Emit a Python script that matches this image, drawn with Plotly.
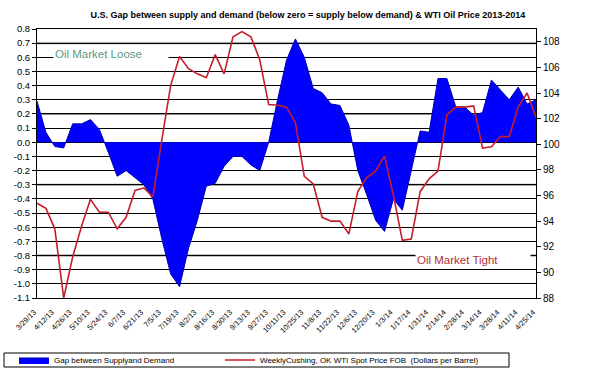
import plotly.graph_objects as go

weeks = ["3/29/13", "4/5/13", "4/12/13", "4/19/13", "4/26/13", "5/3/13", "5/10/13", "5/17/13",
         "5/24/13", "5/31/13", "6/7/13", "6/14/13", "6/21/13", "6/28/13", "7/5/13", "7/12/13",
         "7/19/13", "7/26/13", "8/2/13", "8/9/13", "8/16/13", "8/23/13", "8/30/13", "9/6/13",
         "9/13/13", "9/20/13", "9/27/13", "10/4/13", "10/11/13", "10/18/13", "10/25/13", "11/1/13",
         "11/8/13", "11/15/13", "11/22/13", "11/29/13", "12/6/13", "12/13/13", "12/20/13", "12/27/13",
         "1/3/14", "1/10/14", "1/17/14", "1/24/14", "1/31/14", "2/7/14", "2/14/14", "2/21/14",
         "2/28/14", "3/7/14", "3/14/14", "3/21/14", "3/28/14", "4/4/14", "4/11/14", "4/18/14", "4/25/14"]

gap = [0.29, 0.07, -0.03, -0.04, 0.13, 0.13, 0.16, 0.09, -0.07, -0.24,
       -0.20, -0.25, -0.30, -0.40, -0.68, -0.93, -1.02, -0.75, -0.55, -0.31,
       -0.29, -0.17, -0.10, -0.10, -0.16, -0.20, 0.00, 0.30, 0.58, 0.73,
       0.60, 0.38, 0.35, 0.27, 0.26, 0.12, -0.20, -0.37, -0.55, -0.63,
       -0.40, -0.48, -0.20, 0.08, 0.07, 0.45, 0.45, 0.25, 0.25, 0.19,
       0.21, 0.44, 0.37, 0.30, 0.39, 0.27, 0.30]

wti = [95.4, 95.0, 93.4, 88.0, 91.2, 93.6, 95.7, 94.7, 94.7, 93.4,
       94.3, 96.4, 96.6, 95.9, 100.3, 104.6, 106.85, 105.9, 105.5, 105.2,
       107.0, 105.5, 108.4, 108.8, 108.4, 106.6, 103.1, 103.05, 102.9, 101.7,
       97.5, 96.9, 94.3, 94.0, 94.0, 93.0, 96.3, 97.4, 97.9, 99.1,
       96.0, 92.5, 92.6, 96.3, 97.3, 97.9, 102.3, 102.9, 102.9, 103.0,
       99.7, 99.8, 100.6, 100.6, 102.9, 104.0, 102.1]

left_ticks = [0.8, 0.7, 0.6, 0.5, 0.4, 0.3, 0.2, 0.1, 0.0, -0.1, -0.2, -0.3, -0.4, -0.5,
              -0.6, -0.7, -0.8, -0.9, -1.0, -1.1]
left_labels = ["%.1f" % v for v in left_ticks]
right_ticks = [88, 90, 92, 94, 96, 98, 100, 102, 104, 106, 108]

FONT = "Liberation Sans, Arial, sans-serif"

# plot area in pixels: x 37..536, y 29..298
PL, PW, PT, PH = 37, 499, 29, 269
def px(x):
    return (x - PL) / PW
def py(y):
    return (PT + PH - y) / PH

fig = go.Figure()
fig.add_trace(go.Scatter(
    x=weeks, y=gap, name="Gap between Supplyand Demand",
    fill="tozeroy", mode="lines", fillcolor="#0000ff",
    line=dict(color="#0000b0", width=1), yaxis="y", legend="legend"))
fig.add_trace(go.Scatter(
    x=weeks, y=wti, name="WeeklyCushing, OK WTI Spot Price FOB  (Dollars per Barrel)",
    mode="lines", line=dict(color="#c41e2a", width=1.6), yaxis="y2", legend="legend2"))

# grey-looking gridlines in the reference
for v in [0.7, 0.2, -0.3, -0.8]:
    fig.add_shape(type="line", xref="paper", yref="y", x0=0, x1=1, y0=v, y1=v,
                  line=dict(color="#8a8a8a", width=2), layer="below")

# legend frame
fig.add_shape(type="rect", xref="paper", yref="paper", x0=px(4), x1=px(509), y0=py(353), y1=py(367),
              line=dict(color="black", width=1), fillcolor="rgba(0,0,0,0)")

fig.update_layout(
    width=590, height=392,
    margin=dict(l=37, r=54, t=29, b=94, autoexpand=False),
    paper_bgcolor="white", plot_bgcolor="white",
    font=dict(family=FONT, size=9, color="black"),
    title=dict(text="<b>U.S. Gap between supply and demand (below zero = supply below demand) & WTI Oil Price 2013-2014</b>",
               x=0.543, xref="paper", xanchor="center", y=1 - 15 / 392, yanchor="middle",
               font=dict(size=9, family=FONT, color="black")),
    xaxis=dict(type="category", range=[0, len(weeks) - 1], tickvals=weeks[::2], ticktext=weeks[::2],
               tickangle=-45, tickfont=dict(size=7.5), showgrid=False, showline=True,
               linecolor="black", linewidth=1, mirror=True, ticks="", zeroline=False,
               automargin=False, ticklabelstandoff=6, ticklabelshift=-3),
    yaxis=dict(range=[-1.1, 0.8], tickvals=left_ticks, ticktext=left_labels,
               showgrid=True, gridcolor="black", gridwidth=1, zeroline=False,
               showline=True, linecolor="black", linewidth=1, ticks="outside", ticklen=4,
               tickcolor="black", tickfont=dict(size=9.5), automargin=False),
    yaxis2=dict(range=[88, 109], tickvals=right_ticks, overlaying="y", side="right",
                showgrid=False, zeroline=False, showline=True, linecolor="black", linewidth=1,
                ticks="outside", ticklen=4, tickcolor="black", tickfont=dict(size=10),
                automargin=False),
    legend=dict(orientation="h", x=px(14), xanchor="left", y=py(360), yanchor="middle",
                borderwidth=0, font=dict(size=8), bgcolor="rgba(0,0,0,0)", itemwidth=30),
    legend2=dict(orientation="h", x=px(220), xanchor="left", y=py(360), yanchor="middle",
                 borderwidth=0, font=dict(size=8), bgcolor="rgba(0,0,0,0)", itemwidth=30),
    showlegend=True,
)

fig.add_annotation(text="Oil Market Loose", xref="paper", yref="y", x=px(53), y=0.62,
                   xanchor="left", yanchor="middle", showarrow=False, align="left",
                   width=112, bgcolor="white", font=dict(size=11.5, color="#5a9a86", family=FONT))
fig.add_annotation(text="Oil Market Tight", xref="paper", yref="y", x=px(415), y=-0.83,
                   xanchor="left", yanchor="middle", showarrow=False, align="left",
                   width=112, bgcolor="white", font=dict(size=11.5, color="#b0303a", family=FONT))

fig.write_html("out.html", config={"displayModeBar": False},
               post_script="document.body.style.margin='0';")
